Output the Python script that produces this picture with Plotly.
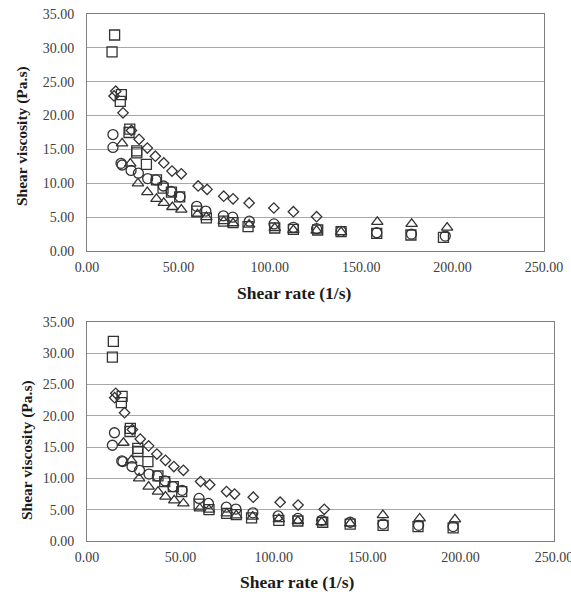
import plotly.graph_objects as go

# ---------- data (top chart) ----------
sq_x = [13.7, 15.1, 18.8, 18.2, 23.4, 23.0, 27.2, 27.2, 32.5, 38.0, 41.6, 46.2, 50.7, 60.0, 65.3, 74.8, 79.9, 88.1, 102.7, 112.9, 126.2, 139.0, 158.5, 177.2, 195.0]
sq_y = [29.4, 31.9, 23.1, 22.1, 18.0, 17.5, 14.8, 14.5, 12.8, 10.5, 9.3, 8.7, 8.0, 5.9, 4.9, 4.4, 4.2, 3.6, 3.4, 3.2, 3.1, 2.85, 2.6, 2.36, 2.0]

di_x = [15.7, 14.8, 19.7, 24.3, 28.5, 33.0, 37.4, 42.0, 46.5, 51.6, 60.8, 65.7, 74.8, 79.9, 88.7, 102.2, 112.9, 125.6]
di_y = [23.6, 22.9, 20.4, 17.8, 16.5, 15.2, 14.0, 13.0, 11.8, 11.4, 9.6, 9.1, 8.1, 7.7, 7.1, 6.35, 5.8, 5.07]

ci_x = [14.2, 14.2, 18.6, 19.2, 24.1, 28.1, 33.2, 37.7, 41.8, 46.0, 50.9, 60.0, 65.0, 74.6, 79.7, 88.8, 102.3, 112.9, 125.6, 139.0, 158.5, 177.5, 196.0]
ci_y = [17.2, 15.3, 12.95, 12.7, 11.9, 11.5, 10.7, 10.5, 9.6, 8.8, 8.0, 6.6, 5.9, 5.2, 5.0, 4.4, 4.0, 3.5, 3.3, 2.9, 2.7, 2.5, 2.2]

tr_x = [19.2, 23.7, 27.9, 33.0, 38.0, 42.0, 46.7, 51.6, 60.4, 65.3, 74.8, 79.9, 88.7, 102.7, 112.9, 125.6, 139.0, 158.8, 177.6, 197.0]
tr_y = [15.9, 12.9, 10.0, 8.7, 7.7, 7.1, 6.5, 6.1, 5.4, 5.0, 4.4, 4.1, 3.9, 3.4, 3.1, 3.0, 2.8, 4.3, 4.0, 3.45]

# ---------- data (bottom chart) ----------
sq2_x = [13.6, 14.1, 18.8, 18.4, 23.2, 23.0, 27.2, 27.2, 32.6, 38.0, 41.6, 46.2, 50.7, 60.0, 65.3, 74.8, 79.9, 88.1, 102.7, 112.9, 126.2, 140.9, 158.5, 177.2, 196.0]
sq2_y = [29.4, 31.9, 23.1, 22.1, 18.0, 17.5, 14.8, 14.3, 12.7, 10.4, 9.5, 8.7, 7.9, 5.9, 5.0, 4.4, 4.2, 3.7, 3.3, 3.2, 3.0, 2.7, 2.5, 2.3, 2.1]

di2_x = [15.4, 14.8, 20.1, 24.3, 28.5, 33.0, 37.4, 42.0, 46.5, 51.6, 60.8, 65.7, 74.7, 79.0, 89.0, 103.4, 113.0, 127.0]
di2_y = [23.6, 22.9, 20.5, 17.8, 16.3, 15.2, 13.9, 12.9, 11.9, 11.3, 9.5, 9.0, 7.9, 7.5, 7.0, 6.2, 5.75, 5.06]

ci2_x = [14.7, 13.6, 18.6, 19.2, 24.1, 28.1, 33.2, 37.7, 41.8, 46.0, 50.9, 60.0, 65.0, 74.6, 79.7, 88.8, 102.3, 112.9, 125.6, 140.9, 158.5, 177.5, 196.0]
ci2_y = [17.3, 15.3, 12.8, 12.7, 11.9, 11.3, 10.7, 10.4, 9.6, 8.7, 8.1, 6.8, 6.0, 5.4, 5.1, 4.5, 4.0, 3.6, 3.3, 3.0, 2.7, 2.5, 2.3]

tr2_x = [19.5, 23.7, 27.9, 33.0, 38.0, 42.0, 46.7, 51.6, 60.4, 65.3, 74.8, 79.9, 88.7, 102.7, 112.9, 125.6, 140.9, 158.4, 178.1, 197.0]
tr2_y = [15.7, 12.9, 10.0, 8.7, 7.9, 7.1, 6.5, 6.0, 5.2, 5.0, 4.4, 4.1, 3.9, 3.5, 3.2, 3.0, 2.8, 4.15, 3.6, 3.46]

x_title = "Shear rate (1/s)"
y_title = "Shear viscosity (Pa.s)"

col = "#333333"
W, H = 571, 592
L, R, T, B = 87, 17, 14, 51
PW, PH = W - L - R, H - T - B

def fx(px):
    return (px - L) / PW

def fy(py):
    return 1 - (py - T) / PH

fig = go.Figure()

def add(xs, ys, sym, size, xa, ya):
    fig.add_trace(go.Scatter(
        x=xs, y=ys, mode="markers", xaxis=xa, yaxis=ya, showlegend=False, cliponaxis=False,
        marker=dict(symbol=sym, size=size, color=col, line=dict(width=1.3, color=col)),
    ))

for (xa, ya, S) in [("x", "y", (sq_x, sq_y, di_x, di_y, ci_x, ci_y, tr_x, tr_y)),
                    ("x2", "y2", (sq2_x, sq2_y, di2_x, di2_y, ci2_x, ci2_y, tr2_x, tr2_y))]:
    add(S[4], S[5], "circle-open", 10, xa, ya)
    add(S[6], S[7], "triangle-up-open", 10, xa, ya)
    add(S[0], S[1], "square-open", 10, xa, ya)
    add(S[2], S[3], "diamond-open", 8, xa, ya)

FONT = "Liberation Serif, Times New Roman, serif"
tickfont = dict(family=FONT, size=14, color="#404040")
common_x = dict(range=[0, 250], dtick=50, tickformat=".2f", showgrid=False, zeroline=False,
                showline=True, linecolor="#808080", linewidth=1, mirror=True, ticks="",
                tickfont=tickfont, ticklabelstandoff=3, automargin=False,
                ticklabeloverflow="allow")
common_y = dict(range=[0, 35], dtick=5, tickformat=".2f", showgrid=True, gridcolor="#a8a8a8",
                gridwidth=1, zeroline=False, showline=True, linecolor="#808080", linewidth=1,
                mirror=True, ticks="", tickfont=tickfont, ticklabelstandoff=9, automargin=False,
                ticklabeloverflow="allow")

fig.update_layout(
    width=W, height=H, margin=dict(l=L, r=R, t=T, b=B, autoexpand=False),
    paper_bgcolor="white", plot_bgcolor="white",
    xaxis=dict(domain=[fx(87), fx(544)], anchor="y", **common_x),
    yaxis=dict(domain=[fy(251), fy(14)], anchor="x", **common_y),
    xaxis2=dict(domain=[fx(87), fx(554)], anchor="y2", **common_x),
    yaxis2=dict(domain=[fy(541), fy(322)], anchor="x2", **common_y),
)

xtf = dict(family=FONT, size=17.5, color="#1a1a1a")
ytf = dict(family=FONT, size=15.5, color="#1a1a1a")
for xc, yc in [(294, 293), (297, 582)]:
    fig.add_annotation(text="<b>" + x_title + "</b>", xref="paper", yref="paper",
                       x=fx(xc), y=fy(yc), showarrow=False, font=xtf,
                       xanchor="center", yanchor="middle")
for xc, yc in [(22, 136), (27, 450)]:
    fig.add_annotation(text="<b>" + y_title + "</b>", xref="paper", yref="paper",
                       x=fx(xc), y=fy(yc), showarrow=False, font=ytf, textangle=-90,
                       xanchor="center", yanchor="middle")

fig.write_html("out.html", config={"displayModeBar": False},
               post_script="document.body.style.margin='0';document.body.style.overflow='hidden';")
